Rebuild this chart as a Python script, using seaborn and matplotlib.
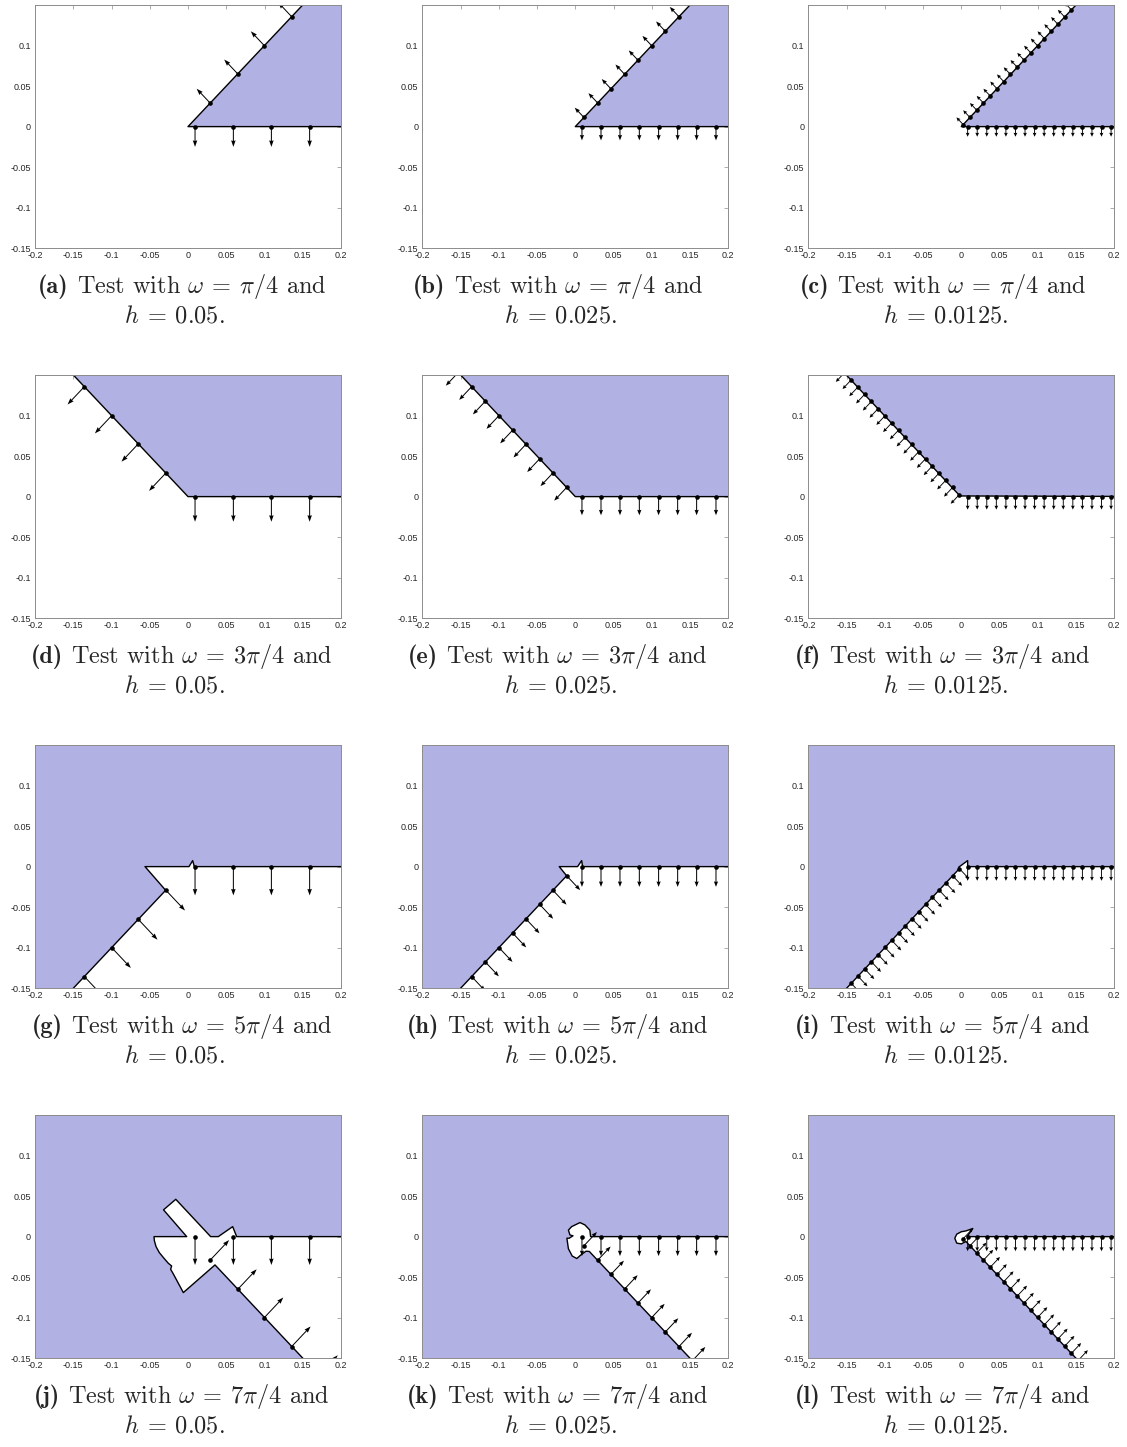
import numpy as np
import matplotlib
matplotlib.use('Agg')
import matplotlib.pyplot as plt
import seaborn as sns
import pandas as pd

sns.set_style('white')
plt.rcParams['font.family'] = ['Liberation Sans', 'DejaVu Sans']
plt.rcParams['mathtext.fontset'] = 'cm'
plt.rcParams['axes.unicode_minus'] = False

# ---------------- data ----------------
x_ticks = [-0.2, -0.15, -0.1, -0.05, 0, 0.05, 0.1, 0.15, 0.2]
x_tick_labels = ['-0.2', '-0.15', '-0.1', '-0.05', '0', '0.05', '0.1', '0.15', '0.2']
y_ticks = [-0.15, -0.1, -0.05, 0, 0.05, 0.1]
y_tick_labels = ['-0.15', '-0.1', '-0.05', '0', '0.05', '0.1']

panel_letters = ['a', 'b', 'c', 'd', 'e', 'f', 'g', 'h', 'i', 'j', 'k', 'l']
omega_labels = [r'\pi/4', r'3\pi/4', r'5\pi/4', r'7\pi/4']
h_labels = ['0.05', '0.025', '0.0125']

# x positions of the samples on the horizontal side, one list per h
bottom_x_h1 = [0.0092, 0.0593, 0.109, 0.159]
bottom_x_h2 = [0.0087, 0.0336, 0.0584, 0.0837, 0.1089, 0.1338, 0.1586, 0.1839]
bottom_x_h3 = [0.0083, 0.0208, 0.0333, 0.0458, 0.0583, 0.0708, 0.0833, 0.0958,
               0.1083, 0.1208, 0.1333, 0.1458, 0.1583, 0.1708, 0.1833, 0.1958]

# |x| (= |y|) of the samples on the slanted side, one list per h
slant_u_h1 = [0.029, 0.065, 0.0998, 0.1355, 0.171]
slant_u_h2 = [0.0113, 0.0292, 0.0466, 0.0645, 0.0819, 0.0998, 0.1176, 0.1355, 0.153]
slant_u_h3 = [0.0025, 0.0113, 0.0202, 0.029, 0.0378, 0.0467, 0.0555, 0.0643, 0.0732,
              0.082, 0.0909, 0.0997, 0.1086, 0.1174, 0.1262, 0.1351, 0.1439, 0.1527]

# sign of (x, y) along the slanted side, and its normal, per omega
slant_sign = [(1, 1), (-1, 1), (-1, -1), (1, -1)]
slant_normal = [(-0.7071, 0.7071), (-0.7071, -0.7071), (0.7071, -0.7071), (0.7071, 0.7071)]
bottom_normal = (0.0, -1.0)

# arrow lengths (data units) per panel
arrow_len = [[0.025, 0.017, 0.0125],
             [0.031, 0.023, 0.016],
             [0.0355, 0.025, 0.0175],
             [0.035, 0.024, 0.018]]

# boundary of the shaded domain (near the corner), per panel
edge_a = [(0.3, 0.0), (0.0, 0.0), (0.3, 0.3)]
edge_b = [(0.3, 0.0), (0.0, 0.0), (0.3, 0.3)]
edge_c = [(0.3, 0.0), (0.0, 0.0), (0.3, 0.3)]
edge_d = [(0.3, 0.0), (0.0, 0.0), (-0.3, 0.3)]
edge_e = [(0.3, 0.0), (0.0, 0.0), (-0.3, 0.3)]
edge_f = [(0.3, 0.0), (-0.0017, 0.0008), (-0.3, 0.3)]
edge_g = [(0.3, 0.0), (0.0083, 0.0), (0.0061, 0.0074), (0.0013, 0.0), (-0.0562, 0.0),
          (-0.0292, -0.0292), (-0.3, -0.3)]
edge_h = [(0.3, 0.0), (0.0096, 0.0), (0.0083, 0.0074), (0.003, 0.0), (-0.021, 0.0),
          (-0.0113, -0.0113), (-0.3, -0.3)]
edge_i = [(0.3, 0.0), (0.0083, 0.0), (0.0083, 0.0074), (-0.0035, -0.0008),
          (-0.0026, -0.0026), (-0.3, -0.3)]
edge_j = [(0.3, 0.0), (0.0636, 0.0), (0.0584, 0.0123), (0.0396, 0.0), (0.0296, 0.0),
          (-0.016, 0.046), (-0.032, 0.033), (-0.0017, 0.0), (-0.0444, 0.0),
          (-0.044, -0.0049), (-0.0418, -0.0123), (-0.0375, -0.0197), (-0.0314, -0.0267),
          (-0.0257, -0.0329), (-0.0214, -0.0362), (-0.0227, -0.0403), (-0.0192, -0.046),
          (-0.0061, -0.069), (0.0353, -0.0349), (0.3, -0.3)]
edge_k = [(0.3, 0.0), (0.033, 0.0), (0.02, 0.0), (0.019, 0.008), (0.0126, 0.0144),
          (0.0061, 0.0173), (-0.0048, 0.0123), (-0.009, 0.008), (-0.007, 0.002),
          (-0.003, 0.001), (-0.008, -0.002), (-0.011, -0.002), (-0.009, -0.015),
          (-0.004, -0.024), (0.002, -0.027), (0.008, -0.022), (0.014, -0.018),
          (0.0183, -0.0183), (0.3, -0.3)]
edge_l = [(0.3, 0.0), (0.0075, 0.0), (0.015, 0.010), (0.006, 0.007), (0.0, 0.006),
          (-0.006, 0.003), (-0.0085, -0.002), (-0.006, -0.008), (0.0, -0.009),
          (0.006, -0.006), (0.0113, -0.0113), (0.3, -0.3)]

# far corners that close each row's shaded polygon
far_corners = [[],
               [(0.3, 0.3)],
               [(-0.3, 0.3), (0.3, 0.3)],
               [(-0.3, -0.3), (-0.3, 0.3), (0.3, 0.3)]]

edges = [edge_a, edge_b, edge_c, edge_d, edge_e, edge_f,
         edge_g, edge_h, edge_i, edge_j, edge_k, edge_l]
bottom_lists = [bottom_x_h1, bottom_x_h2, bottom_x_h3]
slant_lists = [slant_u_h1, slant_u_h2, slant_u_h3]

# ---------------- style ----------------
shade = '#b1b1e4'
spine_col = '#8c8c8c'
label_col = '#262626'

W, H = 1127, 1447
fig = plt.figure(figsize=(W / 100, H / 100), dpi=100)
fig.patch.set_facecolor('white')

col_left = [35, 422.3, 808.3]
ax_w = 306
row_top = [5, 375, 745, 1115]
ax_h = 243.3

cap1_x = [182, 558, 943]
cap2_x = [174, 560, 946]
cap1_base = [293, 663, 1033, 1403]
cap2_base = [322.7, 692.7, 1062.7, 1432.7]
cap_fs = 17.5

head_cfg = [dict(width=1.0, headwidth=4.5, headlength=6.5, headaxislength=6.0),
            dict(width=1.0, headwidth=4.2, headlength=5.5, headaxislength=5.0),
            dict(width=0.9, headwidth=4.2, headlength=4.5, headaxislength=4.0)]

captions = []
for r in range(4):
    for c in range(3):
        idx = 3 * r + c
        ax = fig.add_axes([col_left[c] / W, 1 - (row_top[r] + ax_h) / H, ax_w / W, ax_h / H])
        ax.set_facecolor('white')

        edge = edges[idx]
        poly = edge + far_corners[r]
        px = [p[0] for p in poly]
        py = [p[1] for p in poly]
        ax.fill(px, py, color=shade, lw=0, zorder=1)

        edf = pd.DataFrame({'x': [p[0] for p in edge], 'y': [p[1] for p in edge]})
        sns.lineplot(data=edf, x='x', y='y', sort=False, estimator=None,
                     color='black', lw=1.0, ax=ax, zorder=2)

        bx = np.array(bottom_lists[c])
        by = np.zeros_like(bx)
        su = np.array(slant_lists[c])
        sx = slant_sign[r][0] * su
        sy = slant_sign[r][1] * su
        L = arrow_len[r][c]

        X = np.concatenate([bx, sx])
        Y = np.concatenate([by, sy])
        U = np.concatenate([np.full(len(bx), bottom_normal[0]), np.full(len(sx), slant_normal[r][0])]) * L
        V = np.concatenate([np.full(len(bx), bottom_normal[1]), np.full(len(sx), slant_normal[r][1])]) * L
        ax.quiver(X, Y, U, V, angles='xy', scale_units='xy', scale=1, units='dots',
                  color='black', zorder=3, **head_cfg[c])

        pdf = pd.DataFrame({'x': X, 'y': Y})
        sns.scatterplot(data=pdf, x='x', y='y', color='black', s=11, linewidth=0,
                        ax=ax, zorder=4, legend=False)

        ax.set_xlim(-0.2, 0.2)
        ax.set_ylim(-0.15, 0.1499)
        ax.set_xticks(x_ticks)
        ax.set_xticklabels(x_tick_labels)
        ax.set_yticks(y_ticks)
        ax.set_yticklabels(y_tick_labels)
        ax.set_xlabel('')
        ax.set_ylabel('')
        ax.tick_params(direction='in', length=3, width=0.5, color=spine_col,
                       top=True, right=True, labelsize=6.5, labelcolor=label_col)
        ax.tick_params(axis='x', pad=2)
        ax.tick_params(axis='y', pad=3)
        for s in ax.spines.values():
            s.set_color(spine_col)
            s.set_linewidth(0.7)
            s.set_zorder(5)

        letter = panel_letters[idx]
        y1 = 1 - cap1_base[r] / H
        tb = fig.text(0, y1, '(' + letter + ')', ha='left', va='baseline',
                      fontsize=cap_fs, family='cmb10')
        tr = fig.text(0, y1, r'Test with $\omega\:=\:' + omega_labels[r] + r'$ and',
                      ha='left', va='baseline', fontsize=cap_fs, family='cmr10')
        captions.append((tb, tr, cap1_x[c]))
        line2 = r'$h\:=\:' + h_labels[c] + r'$.'
        fig.text(cap2_x[c] / W, 1 - cap2_base[r] / H, line2, ha='center', va='baseline',
                 fontsize=cap_fs, family='cmr10')

# lay out the two-font first caption lines centred on their column
fig.canvas.draw()
renderer = fig.canvas.get_renderer()
space_px = cap_fs * 0.333 * 100 / 72
for tb, tr, cx in captions:
    w1 = tb.get_window_extent(renderer).width
    w2 = tr.get_window_extent(renderer).width
    x0 = cx - (w1 + space_px + w2) / 2
    tb.set_x(x0 / W)
    tr.set_x((x0 + w1 + space_px) / W)

fig.savefig('out.png', dpi=100, facecolor='white')
